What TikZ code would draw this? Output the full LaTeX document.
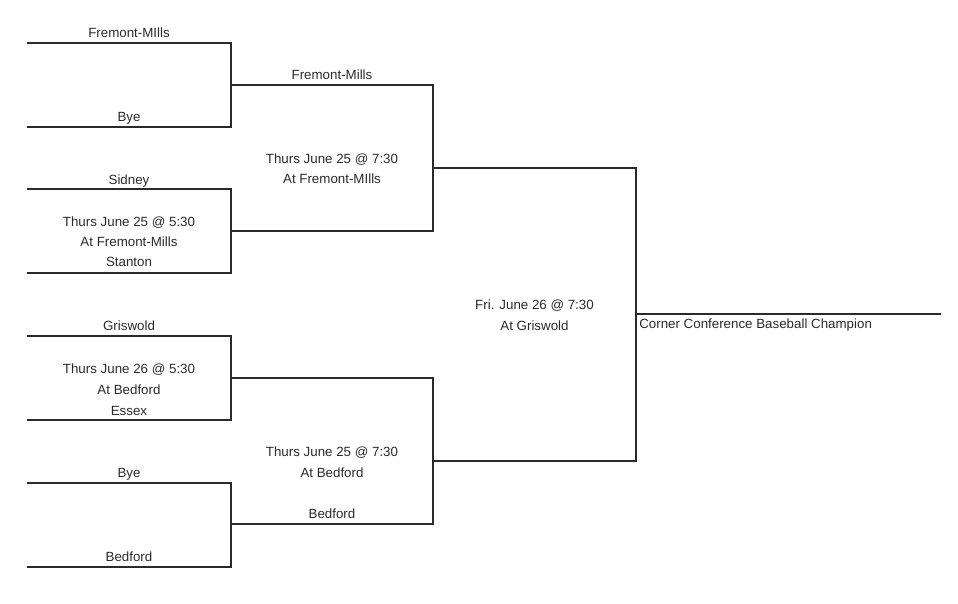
\documentclass[tikz,border=0pt]{standalone}
\usepackage{fontspec}
\setmainfont{Liberation Sans}
\usetikzlibrary{positioning}
\definecolor{ink}{HTML}{2A2A2A}

\begin{document}
\begin{tikzpicture}[x=0.75pt, y=-0.75pt,
    bracket/.style={draw=ink, line width=0.9pt},
    team/.style={anchor=base, inner sep=0pt, text=ink, font=\fontsize{10}{12}\selectfont},
    info/.style={anchor=base, inner sep=0pt, text=ink, font=\fontsize{10}{12}\selectfont}]
        \useasboundingbox (0,0) rectangle (958,604);

        % first round slots
        \coordinate (t1) at (27,43);
        \coordinate (t2) at (27,127);
        \coordinate (t3) at (27,189);
        \coordinate (t4) at (27,273);
        \coordinate (t5) at (27,336);
        \coordinate (t6) at (27,420);
        \coordinate (t7) at (27,483);
        \coordinate (t8) at (27,567);
        % joins
        \coordinate (j1) at (231,85);
        \coordinate (j2) at (231,231);
        \coordinate (j3) at (231,378);
        \coordinate (j4) at (231,524);
        \coordinate (k1) at (433,168);
        \coordinate (k2) at (433,461);
        \coordinate (fin) at (636,314);
        \coordinate (champ) at (941,314);

        \draw[bracket] (t1) -- (t1 -| j1) -- (t2 -| j1) -- (t2);
        \draw[bracket] (t3) -- (t3 -| j2) -- (t4 -| j2) -- (t4);
        \draw[bracket] (t5) -- (t5 -| j3) -- (t6 -| j3) -- (t6);
        \draw[bracket] (t7) -- (t7 -| j4) -- (t8 -| j4) -- (t8);
        \draw[bracket] (j1) -- (j1 -| k1) -- (j2 -| k1) -- (j2);
        \draw[bracket] (j3) -- (j3 -| k2) -- (j4 -| k2) -- (j4);
        \draw[bracket] (k1) -- (k1 -| fin) -- (k2 -| fin) -- (k2);
        \draw[bracket] (fin) -- (champ);

        % teams
        \node[team] (fm1) at (129,37.5) {Fremont-MIlls};
        \node[team] (bye1) at (129,121.5) {Bye};
        \node[team] (sid) at (129,184.5) {Sidney};
        \node[team] (sta) at (129,266.7) {Stanton};
        \node[team] (gri) at (129,330.5) {Griswold};
        \node[team] (ess) at (129,415) {Essex};
        \node[team] (bye2) at (129,477.5) {Bye};
        \node[team] (bed1) at (129,561) {Bedford};
        \node[team] (fm2) at (332,79.5) {Fremont-Mills};
        \node[team] (bed2) at (332,518.5) {Bedford};

        % games
        \node[info] (g1date) at (129,226.5) {Thurs June 25 @ 5:30};
        \node[info] (g1site) at (129,246.5) {At Fremont-Mills};
        \node[info] (g2date) at (129,373) {Thurs June 26 @ 5:30};
        \node[info] (g2site) at (129,394) {At Bedford};
        \node[info] (g3date) at (332,163.5) {Thurs June 25 @ 7:30};
        \node[info] (g3site) at (332,183.5) {At Fremont-MIlls};
        \node[info] (g4date) at (332,456.5) {Thurs June 25 @ 7:30};
        \node[info] (g4site) at (332,477) {At Bedford};
        \node[info] (g5date) at (534.5,309) {Fri. June 26 @ 7:30};
        \node[info] (g5site) at (534.5,330) {At Griswold};
        \node[team, anchor=base west] (champion) at (639,328.5) {Corner Conference Baseball Champion};
      \end{tikzpicture}
\end{document}
